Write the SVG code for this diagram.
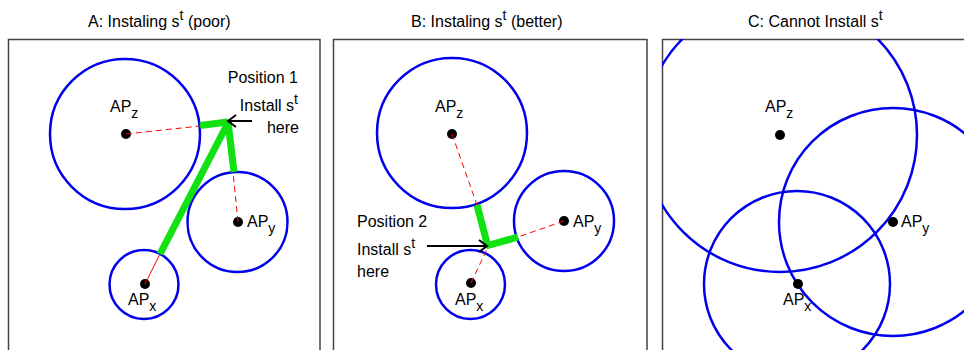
<svg xmlns="http://www.w3.org/2000/svg" width="964" height="350" viewBox="0 0 964 350">
<style>
text{font-family:"Liberation Sans",Arial,sans-serif;font-size:16px;fill:#000}
.sub{font-size:14px}
.frame{fill:none;stroke:#444;stroke-width:1.5}
.cov{fill:none;stroke:#0000ee;stroke-width:2.5}
.dot{fill:#000}
.green{stroke:#11e011;stroke-width:7;stroke-linecap:butt;fill:none}
.red{stroke:#ff0000;stroke-width:1;stroke-dasharray:6 4;fill:none}
.arr{stroke:#000;stroke-width:2;fill:none}
</style>
<defs>
<clipPath id="clipC"><rect x="662" y="39" width="310" height="320"/></clipPath>
</defs>
<rect width="964" height="350" fill="#fff"/>

<!-- Titles -->
<text x="88" y="27">A: Instaling s<tspan class="sub" dy="-7">t</tspan><tspan dy="7"> (poor)</tspan></text>
<text x="411" y="27">B: Instaling s<tspan class="sub" dy="-7">t</tspan><tspan dy="7"> (better)</tspan></text>
<text x="748" y="27">C: Cannot Install s<tspan class="sub" dy="-7">t</tspan></text>

<!-- Panel A -->
<g id="panelA">
<rect class="frame" x="8.5" y="39.5" width="311.5" height="320"/>
<g id="A-APz"><circle class="cov" cx="125" cy="134" r="75"/><circle class="dot" cx="126" cy="134" r="5"/><text x="110" y="112">AP<tspan class="sub" dy="6">z</tspan></text></g>
<g id="A-APy"><circle class="cov" cx="237.5" cy="222" r="50"/><circle class="dot" cx="238" cy="222" r="5"/><text x="247" y="227">AP<tspan class="sub" dy="6">y</tspan></text></g>
<g id="A-APx"><circle class="cov" cx="144" cy="284.5" r="34.5"/><circle class="dot" cx="145" cy="284" r="5"/><text x="128" y="305">AP<tspan class="sub" dy="6">x</tspan></text></g>
<g id="A-label"><text x="298" y="83" text-anchor="end">Position 1</text><text x="298" y="111" text-anchor="end">Install s<tspan class="sub" dy="-7">t</tspan></text><text x="299" y="133" text-anchor="end">here</text></g>
</g>

<!-- Panel B -->
<g id="panelB">
<rect class="frame" x="333.5" y="39.5" width="313.5" height="320"/>
<g id="B-APz"><circle class="cov" cx="452" cy="133" r="75"/><circle class="dot" cx="452" cy="134" r="5"/><text x="435" y="112">AP<tspan class="sub" dy="6">z</tspan></text></g>
<g id="B-APy"><circle class="cov" cx="564" cy="221" r="50"/><circle class="dot" cx="564" cy="221" r="5"/><text x="573" y="227">AP<tspan class="sub" dy="6">y</tspan></text></g>
<g id="B-APx"><circle class="cov" cx="470.5" cy="284.5" r="34.5"/><circle class="dot" cx="471" cy="283" r="5"/><text x="455" y="305">AP<tspan class="sub" dy="6">x</tspan></text></g>
<g id="B-label"><text x="357" y="227">Position 2</text><text x="357" y="255">Install s<tspan class="sub" dy="-7">t</tspan></text><text x="357" y="277">here</text></g>
</g>

<!-- Panel C -->
<g id="panelC">
<rect class="frame" x="662.5" y="39.5" width="310" height="320"/>
<g clip-path="url(#clipC)">
<circle class="cov" cx="780" cy="135" r="137"/>
<circle class="cov" cx="893" cy="222" r="114"/>
<circle class="cov" cx="797" cy="284" r="93"/>
</g>
<g id="C-APz"><circle class="dot" cx="780" cy="135" r="5"/><text x="765" y="112">AP<tspan class="sub" dy="6">z</tspan></text></g>
<g id="C-APy"><circle class="dot" cx="893" cy="222" r="5"/><text x="901" y="227">AP<tspan class="sub" dy="6">y</tspan></text></g>
<g id="C-APx"><circle class="dot" cx="798" cy="284" r="5"/><text x="783" y="305">AP<tspan class="sub" dy="6">x</tspan></text></g>
</g>

<!-- Connectors -->
<g id="connectors">
<line class="red" x1="126" y1="134" x2="200" y2="126"/>
<line class="red" x1="238" y1="222" x2="233" y2="172"/>
<line class="red" x1="145" y1="284" x2="160" y2="254" style="stroke-dasharray:none"/>
<polyline class="green" points="200,125.5 228,122"/>
<line class="green" x1="160" y1="254" x2="229" y2="121"/>
<line class="green" x1="228" y1="122" x2="234" y2="172"/>
<line class="arr" x1="252" y1="121" x2="228" y2="121"/>
<polyline class="arr" points="236,115 228,121 236,127"/>

<line class="red" x1="452" y1="134" x2="477" y2="205"/>
<line class="red" x1="564" y1="221" x2="518" y2="237"/>
<line class="red" x1="471" y1="283" x2="488" y2="247"/>
<line class="green" x1="477" y1="205" x2="488" y2="247"/>
<line class="green" x1="486" y1="246" x2="518" y2="237"/>
<line class="arr" x1="427" y1="246" x2="487" y2="246"/>
<polyline class="arr" points="479,240 487,246 479,252"/>
</g>
</svg>
